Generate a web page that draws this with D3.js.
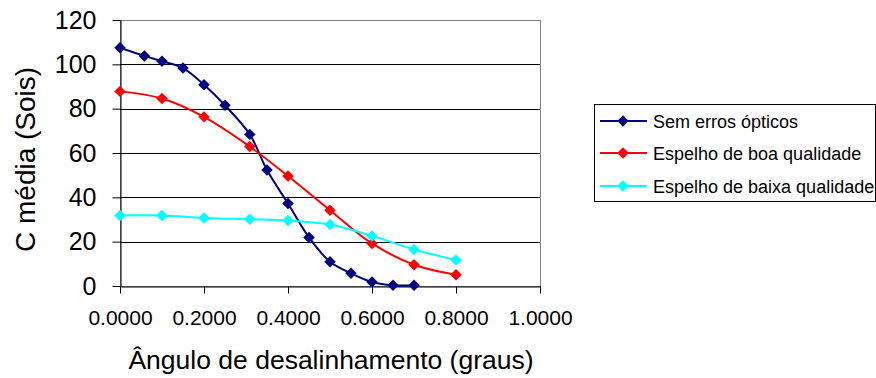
<!DOCTYPE html>
<html>
<head>
<meta charset="utf-8">
<script src="https://cdn.jsdelivr.net/npm/d3@7"></script>
<style>
  html, body { margin: 0; padding: 0; background: #fff; }
  svg { display: block; font-family: Arial, "Liberation Sans", sans-serif; }
</style>
</head>
<body>
<svg id="chart" width="876" height="378"></svg>
<script>
// ---- data ----
const seriesNames = ["Sem erros ópticos", "Espelho de boa qualidade", "Espelho de baixa qualidade"];
const seriesColors = ["#000080", "#FF0000", "#00FFFF"];

const semErrosX = [0, 0.058, 0.1, 0.15, 0.2, 0.25, 0.309, 0.35, 0.4, 0.45, 0.5, 0.55, 0.6, 0.65, 0.7];
const semErrosY = [107.5, 103.8, 101.4, 98.3, 90.8, 81.5, 68.4, 52.3, 37.2, 21.9, 10.9, 5.7, 1.8, 0.3, 0.3];

const espelhoX = [0, 0.1, 0.2, 0.309, 0.4, 0.5, 0.6, 0.7, 0.8];
const boaQualidadeY = [87.8, 84.6, 76.3, 62.9, 49.6, 34.2, 19.2, 9.6, 5.1];
const baixaQualidadeY = [31.8, 31.8, 30.7, 30.1, 29.5, 27.7, 22.6, 16.5, 11.7];

const xTicks = [0, 0.2, 0.4, 0.6, 0.8, 1.0];
const yTicks = [0, 20, 40, 60, 80, 100, 120];

const xTitle = "Ângulo de desalinhamento (graus)";
const yTitle = "C média (Sois)";

// ---- layout ----
const svg = d3.select("#chart");
const plot = { left: 120, right: 540, top: 20, bottom: 286 };

const x = d3.scaleLinear().domain([0, 1]).range([plot.left, plot.right]);
const y = d3.scaleLinear().domain([0, 120]).range([plot.bottom, plot.top]);

// plot area border (gray)
svg.append("rect")
  .attr("x", plot.left + 0.5).attr("y", plot.top + 0.5)
  .attr("width", plot.right - plot.left).attr("height", plot.bottom - plot.top)
  .attr("fill", "none").attr("stroke", "#808080").attr("stroke-width", 1);

// gridlines
svg.append("g").selectAll("line").data(yTicks.filter(d => d > 0 && d < 120)).join("line")
  .attr("x1", plot.left).attr("x2", plot.right)
  .attr("y1", d => Math.round(y(d)) + 0.5).attr("y2", d => Math.round(y(d)) + 0.5)
  .attr("stroke", "#000").attr("stroke-width", 1);

// axes
const xAxis = d3.axisBottom(x).tickValues(xTicks).tickFormat(d3.format(".4f")).tickSizeOuter(0).tickSizeInner(7).tickPadding(17);
const gx = svg.append("g").attr("transform", `translate(0,${plot.bottom + 0.5})`).call(xAxis);
gx.select(".domain").attr("stroke", "#000");
gx.selectAll(".tick line").attr("stroke", "#000");
gx.selectAll("text").attr("font-size", 21).attr("fill", "#000").attr("font-family", "Arial, 'Liberation Sans', sans-serif");

const yAxis = d3.axisLeft(y).tickValues(yTicks).tickSizeOuter(0).tickSizeInner(8).tickPadding(16);
const gy = svg.append("g").attr("transform", `translate(${plot.left + 0.5},0)`).call(yAxis);
gy.select(".domain").attr("stroke", "#000");
gy.selectAll(".tick line").attr("stroke", "#000");
gy.selectAll("text").attr("font-size", 25).attr("fill", "#000").attr("font-family", "Arial, 'Liberation Sans', sans-serif");

// titles
svg.append("text")
  .attr("x", 331).attr("y", 369)
  .attr("text-anchor", "middle").attr("font-size", 26.5).attr("fill", "#000")
  .text(xTitle);

svg.append("text")
  .attr("transform", "translate(35,252) rotate(-90)")
  .attr("text-anchor", "start").attr("font-size", 28).attr("fill", "#000")
  .text(yTitle);

// series
const seriesData = [
  { name: seriesNames[0], color: seriesColors[0], pts: semErrosX.map((v, i) => [v, semErrosY[i]]) },
  { name: seriesNames[1], color: seriesColors[1], pts: espelhoX.map((v, i) => [v, boaQualidadeY[i]]) },
  { name: seriesNames[2], color: seriesColors[2], pts: espelhoX.map((v, i) => [v, baixaQualidadeY[i]]) }
];

const line = d3.line().x(d => x(d[0])).y(d => y(d[1])).curve(d3.curveCatmullRom.alpha(0.5));
const diamond = d3.symbol().type(d3.symbolDiamond2).size(84);

seriesData.forEach(s => {
  const g = svg.append("g");
  g.append("path").attr("d", line(s.pts)).attr("fill", "none")
    .attr("stroke", s.color).attr("stroke-width", 2);
  g.selectAll("path.m").data(s.pts).join("path").attr("class", "m")
    .attr("d", diamond)
    .attr("transform", d => `translate(${x(d[0])},${y(d[1])})`)
    .attr("fill", s.color);
});

// legend
const legend = svg.append("g");
legend.append("rect")
  .attr("x", 594.5).attr("y", 104.5).attr("width", 281).attr("height", 97)
  .attr("fill", "#fff").attr("stroke", "#000").attr("stroke-width", 1);
const rowY = [121, 153, 186];
seriesData.forEach((s, i) => {
  const r = legend.append("g").attr("transform", `translate(0,${rowY[i]})`);
  r.append("line").attr("x1", 600).attr("x2", 647).attr("y1", 0).attr("y2", 0)
    .attr("stroke", s.color).attr("stroke-width", 2);
  r.append("path").attr("d", diamond).attr("transform", "translate(623,0)").attr("fill", s.color);
  r.append("text").attr("x", 653).attr("y", 6.5).attr("font-size", 18).attr("fill", "#000")
    .text(s.name);
});
</script>
</body>
</html>
